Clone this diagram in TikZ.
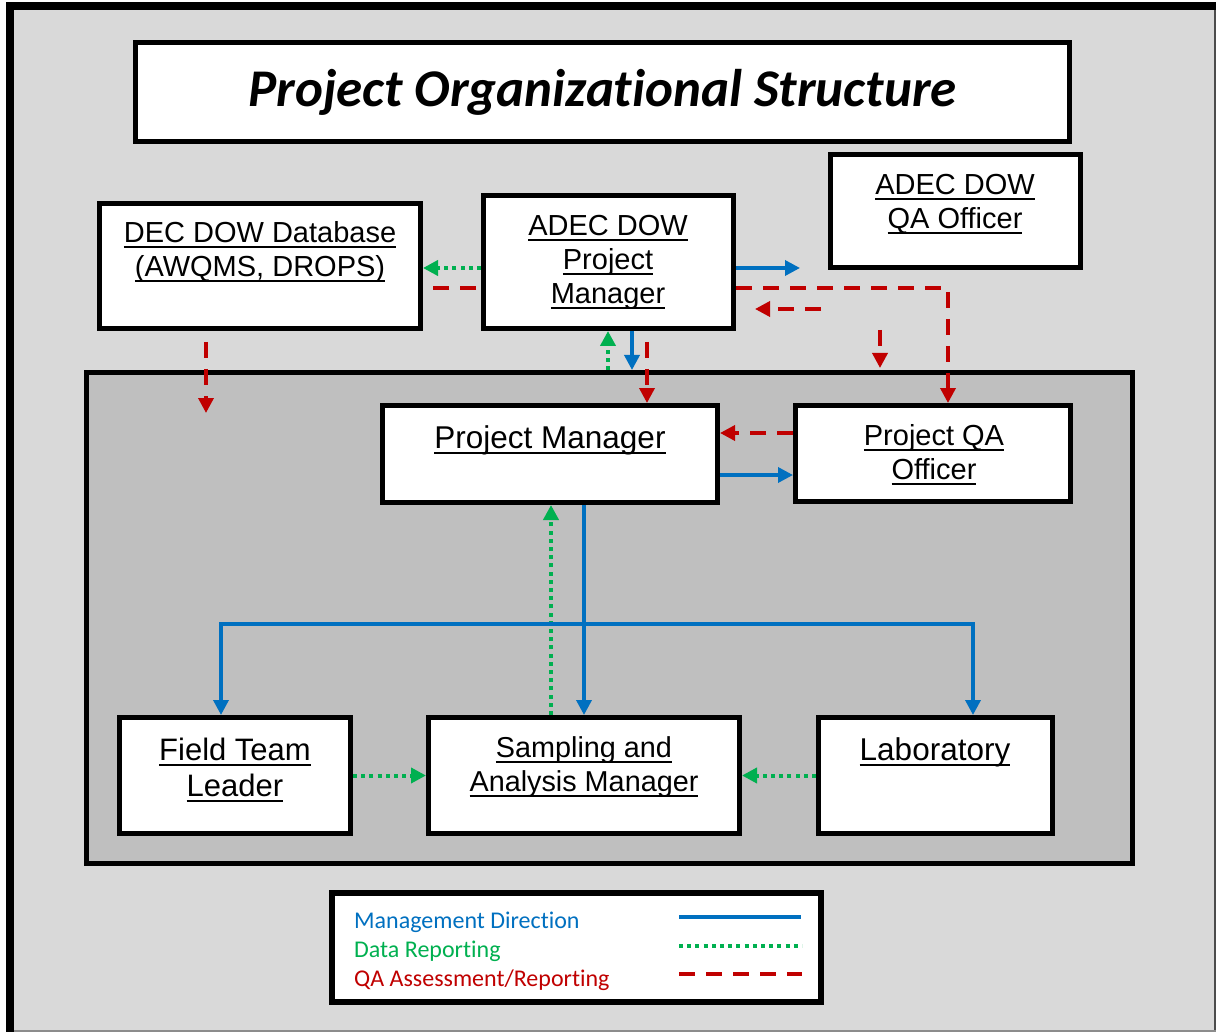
\documentclass[tikz,border=0pt]{standalone}
\usepackage{fontspec}
\setmainfont{Liberation Sans}
\newfontfamily\calib[Ligatures=NoCommon]{Carlito}
\usetikzlibrary{arrows.meta}
\definecolor{mblue}{HTML}{0070C0}
\definecolor{mgreen}{HTML}{00B050}
\definecolor{mred}{HTML}{C00000}
\definecolor{bggray}{HTML}{D9D9D9}
\definecolor{panelgray}{HTML}{BFBFBF}
\newcommand\uln[1]{\setbox0\hbox{#1}\rlap{\rule[-0.2em]{\wd0}{0.07em}}\box0}
\tikzset{
  boxnode/.style={draw=black, line width=5pt, fill=white, inner sep=0pt},
  lbl/.style={align=center, inner sep=0pt},
  tip/.style={-{Triangle[length=15pt,width=15pt]}},
  mgmtarrow/.style={draw=mblue, line width=3.5pt, tip},
  dataarrow/.style={draw=mgreen, line width=4pt, dash pattern=on 4pt off 4.2pt, tip},
  qaarrow/.style={draw=mred, line width=3.5pt, dash pattern=on 16pt off 11pt, tip},
}
\begin{document}
\begin{tikzpicture}[x=1pt,y=-1pt]
\useasboundingbox (0,0) rectangle (1216,1032);
% frame
\fill[white] (0,0) rectangle (1216,1032);
\fill[bggray] (14,10) rectangle (1214,1030);
\fill[black] (6,2) rectangle (1216,10);
\fill[black] (6,2) rectangle (14,1032);
\fill[black!70] (1214,10) rectangle (1216,1032);
\fill[black!45] (14,1030) rectangle (1216,1032);

% inner panel
\node[draw=black, line width=5pt, fill=panelgray, inner sep=0pt, minimum width=1046pt, minimum height=491pt] (panel) at (609.5,618) {};

% title
\node[boxnode, minimum width=934pt, minimum height=99pt] (title) at (602.5,92)
  {\calib\bfseries\itshape\fontsize{53}{60}\selectfont Project Organizational Structure};

% boxes
\node[boxnode, minimum width=321pt, minimum height=125pt] (db) at (260,266) {};
\node[boxnode, minimum width=250pt, minimum height=133pt] (adecpm) at (608.5,262) {};
\node[boxnode, minimum width=250pt, minimum height=113pt] (adecqa) at (955.5,211) {};
\node[boxnode, minimum width=335pt, minimum height=97pt] (pm) at (550,454) {};
\node[boxnode, minimum width=275pt, minimum height=96pt] (pqa) at (933,453.5) {};
\node[boxnode, minimum width=231pt, minimum height=116pt] (ftl) at (235,775.5) {};
\node[boxnode, minimum width=311pt, minimum height=116pt] (sam) at (584,775.5) {};
\node[boxnode, minimum width=234pt, minimum height=116pt] (lab) at (935.5,775.5) {};

% labels
\node[lbl, font=\fontsize{29}{34}\selectfont] (dbtext) at (260,252) {\uln{DEC DOW Database}\\\uln{(AWQMS, DROPS)}};
\node[lbl, font=\fontsize{29}{34}\selectfont] (adecpmtext) at (608,262) {\uln{ADEC DOW}\\\uln{Project}\\\uln{Manager}};
\node[lbl, font=\fontsize{29}{34}\selectfont] (adecqatext) at (955,204) {\uln{ADEC DOW}\\\uln{QA Officer}};
\node[lbl, font=\fontsize{31.5}{36}\selectfont] (pmtext) at (550,440) {\uln{Project Manager}};
\node[lbl, font=\fontsize{29}{34}\selectfont] (pqatext) at (934,455) {\uln{Project QA}\\\uln{Officer}};
\node[lbl, font=\fontsize{31}{36}\selectfont] (ftltext) at (235,770) {\uln{Field Team}\\\uln{Leader}};
\node[lbl, font=\fontsize{28.8}{34}\selectfont] (samtext) at (584,767) {\uln{Sampling and}\\\uln{Analysis Manager}};
\node[lbl, font=\fontsize{31.5}{36}\selectfont] (labtext) at (935,752) {\uln{Laboratory}};

% free-end coordinates
\coordinate (bluer) at (800,268);
\coordinate (dbdown) at (206,413);
\coordinate (rlA) at (821,309);
\coordinate (rlB) at (755,309);
\coordinate (rdA) at (880,330);
\coordinate (rdB) at (880,368);
\coordinate (busL) at (221,624);
\coordinate (busR) at (973,624);

% top connectors
\draw[dataarrow] (adecpm.west |- 0,268) -- (db.east |- 0,268);
\draw[qaarrow, -, dash phase=22pt] (adecpm.west |- 0,288) -- (db.east |- 0,288);
\draw[qaarrow, dash phase=16pt] (db.south -| dbdown) -- (dbdown);
\draw[mgmtarrow] (adecpm.east |- bluer) -- (bluer);
\draw[qaarrow] (adecpm.east |- 0,288) -| (pqa.north -| 948,0);
\draw[qaarrow] (rlA) -- (rlB);
\draw[qaarrow] (rdA) -- (rdB);
\draw[dataarrow] (panel.north -| 608,0) -- (adecpm.south -| 608,0);
\draw[mgmtarrow] (adecpm.south -| 632,0) -- (panel.north -| 632,0);
\draw[qaarrow, dash phase=16pt] (adecpm.south -| 647,0) -- (pm.north -| 647,0);

% lower connectors
\draw[qaarrow] (pqa.west |- 0,433) -- (pm.east |- 0,433);
\draw[mgmtarrow] (pm.east |- 0,475) -- (pqa.west |- 0,475);
\draw[dataarrow] (sam.north -| 551,0) -- (pm.south -| 551,0);
\draw[mgmtarrow] (pm.south -| sam.north) -- (sam.north);
\draw[mgmtarrow, {Triangle[length=15pt,width=15pt]}-{Triangle[length=15pt,width=15pt]}]
  (ftl.north -| busL) -- (busL) -- (busR) -- (lab.north -| busR);
\draw[dataarrow] (ftl.east) -- (sam.west);
\draw[dataarrow] (lab.west) -- (sam.east);

% legend
\node[boxnode, line width=6pt, minimum width=489pt, minimum height=109pt] (legend) at (576.5,947.5) {};
\node[anchor=west, inner sep=0pt, text=mblue, font=\calib\fontsize{24}{28}\selectfont] (lg1) at (354,922) {Management Direction};
\node[anchor=west, inner sep=0pt, text=mgreen, font=\calib\fontsize{24}{28}\selectfont] (lg2) at (354,951) {Data Reporting};
\node[anchor=west, inner sep=0pt, text=mred, font=\calib\fontsize{24}{28}\selectfont] (lg3) at (354,980) {QA Assessment/Reporting};
\draw[mblue, line width=3.5pt] (679,917) -- (801,917);
\draw[mgreen, line width=4pt, dash pattern=on 4pt off 4.2pt] (679,946) -- (802,946);
\draw[mred, line width=3.5pt, dash pattern=on 16pt off 11pt] (679,974) -- (802,974);
\end{tikzpicture}
\end{document}
